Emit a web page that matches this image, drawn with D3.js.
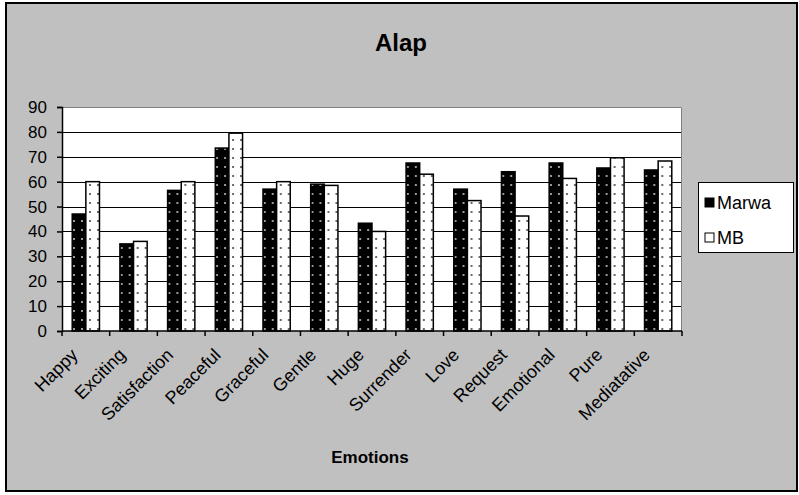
<!DOCTYPE html>
<html>
<head>
<meta charset="utf-8">
<script src="https://cdn.jsdelivr.net/npm/d3@7"></script>
<style>
  html, body { margin: 0; padding: 0; background: #ffffff; }
  svg { display: block; font-family: "Liberation Sans", Arial, sans-serif; }
</style>
</head>
<body>
<svg id="chart" width="799" height="495"></svg>
<script>
// Emotion ratings for the Alap section, two raga performances
const categories = ["Happy", "Exciting", "Satisfaction", "Peaceful", "Graceful", "Gentle",
  "Huge", "Surrender", "Love", "Request", "Emotional", "Pure", "Mediatative"];
const seriesNames = ["Marwa", "MB"];
const marwaValues = [47, 35, 56.5, 73.5, 57, 59, 43.3, 67.5, 57, 64, 67.5, 65.5, 64.7];
const mbValues = [60, 36, 60, 79.5, 60, 58.5, 40, 63, 52.4, 46.2, 61.3, 69.6, 68.3];
const yTicks = [0, 10, 20, 30, 40, 50, 60, 70, 80, 90];

const svg = d3.select("#chart");
const plot = { left: 62, right: 682, top: 107, bottom: 331 };

// dotted fills for the two series
const defs = svg.append("defs");
const pDark = defs.append("pattern").attr("id", "dotsDark")
  .attr("patternUnits", "userSpaceOnUse").attr("width", 8).attr("height", 9);
pDark.append("rect").attr("width", 8).attr("height", 9).attr("fill", "#000");
pDark.append("rect").attr("x", 3).attr("y", 4).attr("width", 2).attr("height", 2).attr("fill", "#9a9a9a");
const pLight = defs.append("pattern").attr("id", "dotsLight")
  .attr("patternUnits", "userSpaceOnUse").attr("width", 8).attr("height", 9);
pLight.append("rect").attr("width", 8).attr("height", 9).attr("fill", "#fff");
pLight.append("rect").attr("x", 3).attr("y", 4).attr("width", 2).attr("height", 2).attr("fill", "#6a6a6a");
const fills = { Marwa: "url(#dotsDark)", MB: "url(#dotsLight)" };

// chart area frame
svg.append("rect").attr("x", 6).attr("y", 3).attr("width", 791).attr("height", 488)
  .attr("fill", "#c0c0c0").attr("stroke", "#000").attr("stroke-width", 2);

// scales
const x0 = d3.scaleBand().domain(categories).range([plot.left, plot.right]).padding(0);
const x1 = d3.scaleBand().domain(seriesNames).range([0, x0.bandwidth()])
  .paddingInner(0).paddingOuter(0.75);
const y = d3.scaleLinear().domain([0, 90]).range([plot.bottom, plot.top]);

// plot area
svg.append("rect").attr("x", plot.left).attr("y", plot.top)
  .attr("width", plot.right - plot.left).attr("height", plot.bottom - plot.top)
  .attr("fill", "#fff");

// gridlines
svg.append("g").selectAll("line").data(yTicks.filter(d => d > 0 && d < 90)).join("line")
  .attr("x1", plot.left).attr("x2", plot.right)
  .attr("y1", d => Math.round(y(d)) + 0.5).attr("y2", d => Math.round(y(d)) + 0.5)
  .attr("stroke", "#000").attr("stroke-width", 1);

// plot border (top and right)
svg.append("path")
  .attr("d", `M${plot.left},${plot.top + 0.5}H${plot.right - 0.5}V${plot.bottom}`)
  .attr("fill", "none").attr("stroke", "#808080").attr("stroke-width", 1);

// bars
const rows = categories.map((c, i) => ({ cat: c, Marwa: marwaValues[i], MB: mbValues[i] }));
const groups = svg.append("g").selectAll("g").data(rows).join("g")
  .attr("transform", d => `translate(${x0(d.cat)},0)`);
groups.selectAll("rect").data(d => seriesNames.map(s => ({ s, v: d[s] }))).join("rect")
  .attr("x", d => x1(d.s))
  .attr("y", d => y(d.v))
  .attr("width", x1.bandwidth())
  .attr("height", d => y(0) - y(d.v))
  .attr("fill", d => fills[d.s])
  .attr("stroke", "#000").attr("stroke-width", 1.5);

// y axis
const yAxis = d3.axisLeft(y).tickValues(yTicks).tickSize(5).tickPadding(10);
const gy = svg.append("g").attr("transform", `translate(${plot.left},0)`).call(yAxis);
gy.select(".domain").attr("stroke", "#000").attr("stroke-width", 1.5);
gy.selectAll(".tick line").attr("stroke", "#000").attr("stroke-width", 1.5);
gy.selectAll(".tick text").attr("font-size", 17).attr("fill", "#000")
  .attr("font-family", "Liberation Sans, Arial, sans-serif");

// x axis: ticks on category boundaries, rotated labels
const gx = svg.append("g");
gx.append("line").attr("x1", plot.left).attr("x2", plot.right)
  .attr("y1", plot.bottom).attr("y2", plot.bottom)
  .attr("stroke", "#000").attr("stroke-width", 1.5);
const boundaries = categories.map(c => x0(c)).concat([plot.right]);
gx.selectAll("line.tk").data(boundaries).join("line").attr("class", "tk")
  .attr("x1", d => d).attr("x2", d => d)
  .attr("y1", plot.bottom).attr("y2", plot.bottom + 5)
  .attr("stroke", "#000").attr("stroke-width", 1.5);
gx.selectAll("text").data(categories).join("text")
  .attr("transform", d => `translate(${x0(d) + x0.bandwidth() / 2 - 16},${347}) rotate(-45)`)
  .attr("text-anchor", "end").attr("dy", "0.71em")
  .attr("font-size", 18).attr("fill", "#000")
  .text(d => d);

// title and axis title
svg.append("text").attr("x", 401).attr("y", 51).attr("text-anchor", "middle")
  .attr("font-size", 24).attr("font-weight", "bold").text("Alap");
svg.append("text").attr("x", 370).attr("y", 463).attr("text-anchor", "middle")
  .attr("font-size", 17).attr("font-weight", "bold").text("Emotions");

// legend
const lg = svg.append("g");
lg.append("rect").attr("x", 698.5).attr("y", 182.5).attr("width", 95).attr("height", 70)
  .attr("fill", "#fff").attr("stroke", "#000").attr("stroke-width", 1);
const items = lg.selectAll("g").data(seriesNames).join("g")
  .attr("transform", (d, i) => `translate(705,${198 + i * 35})`);
items.append("rect").attr("width", 9).attr("height", 9)
  .attr("fill", d => d === "Marwa" ? "#000" : "#fff")
  .attr("stroke", "#000").attr("stroke-width", 1);
items.append("text").attr("x", 12).attr("y", 10.5)
  .attr("font-size", 18).attr("fill", "#000").text(d => d);
</script>
</body>
</html>
